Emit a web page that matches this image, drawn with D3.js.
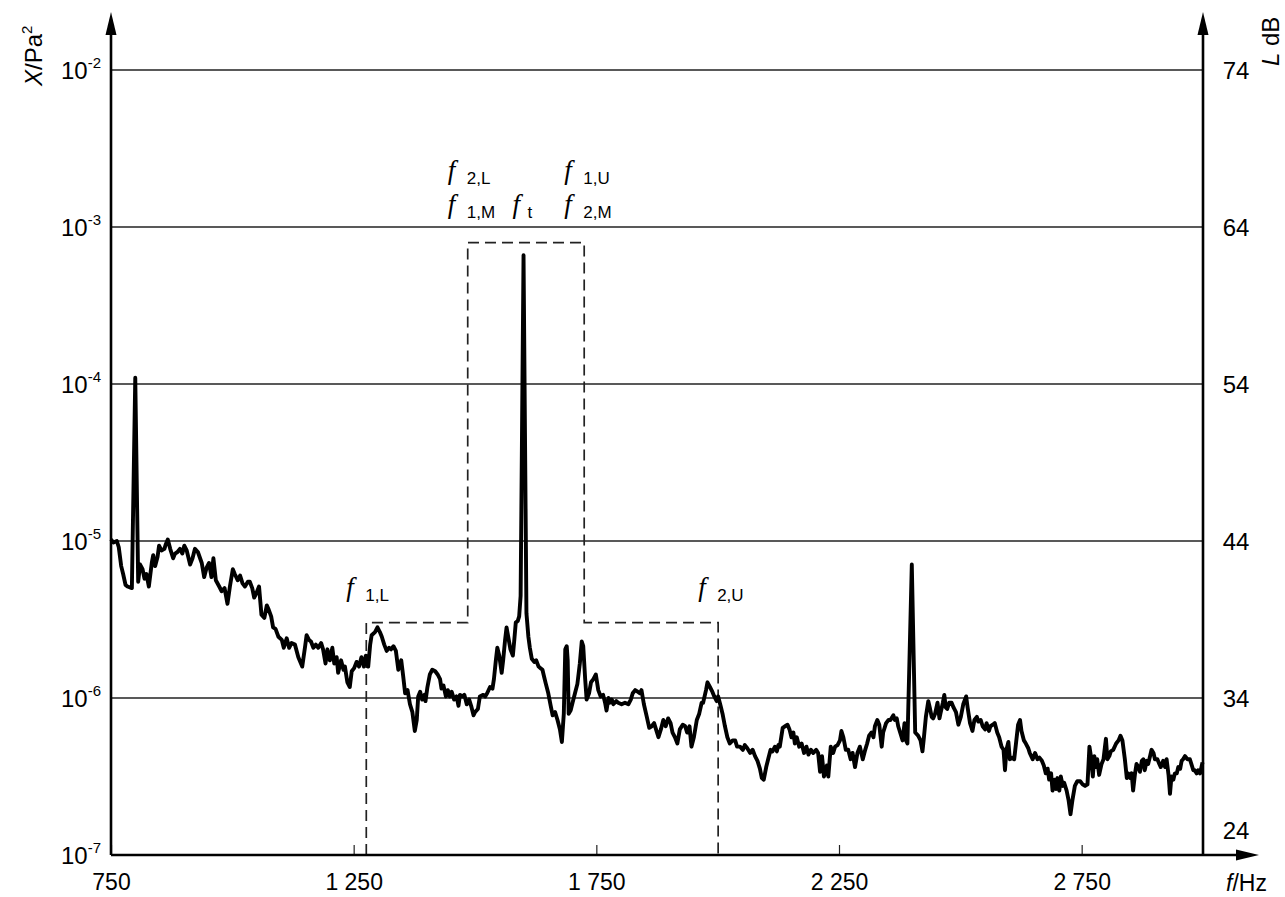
<!DOCTYPE html>
<html>
<head>
<meta charset="utf-8">
<script src="https://cdn.jsdelivr.net/npm/d3@7"></script>
<style>
  body { margin: 0; background: #fff; }
  svg { display: block; font-family: "Liberation Sans", Arial, sans-serif; }
</style>
</head>
<body>
<main></main>
<script>
// axis ticks
const xTicks = [750, 1250, 1750, 2250, 2750]
const yExponents = [-2, -3, -4, -5, -6, -7]
const dbTicks = [74, 64, 54, 44, 34, 24]

// dashed band outline (Hz edges, dB levels: low boxes, middle box)
const bandHz = [1276, 1485, 1725, 2001]
const bandDb = [38.8, 63.0]

const spectrumHz = [
  750, 755, 762, 766, 771, 775, 780, 784, 793, 800, 806, 810, 815, 819, 823, 828, 834, 837, 841, 846,
  849, 854, 860, 863, 867, 872, 878, 882, 887, 892, 897, 901, 906, 913, 918, 923, 929, 937, 942, 947,
  952, 957, 961, 966, 973, 978, 984, 990, 995, 1001, 1005, 1011, 1016, 1021, 1026, 1032, 1036, 1041, 1045, 1050,
  1055, 1060, 1066, 1071, 1074, 1080, 1084, 1089, 1095, 1102, 1106, 1112, 1117, 1122, 1129, 1136, 1144, 1150, 1153, 1158,
  1162, 1167, 1172, 1177, 1183, 1187, 1192, 1196, 1201, 1206, 1210, 1215, 1218, 1224, 1229, 1232, 1237, 1242, 1246, 1251,
  1256, 1261, 1266, 1271, 1275, 1280, 1284, 1287, 1294, 1299, 1304, 1308, 1313, 1318, 1323, 1327, 1332, 1337, 1342, 1348,
  1352, 1356, 1361, 1366, 1371, 1376, 1380, 1383, 1387, 1391, 1396, 1398, 1402, 1407, 1412, 1418, 1423, 1428, 1431, 1435,
  1440, 1444, 1448, 1452, 1457, 1462, 1466, 1469, 1474, 1478, 1483, 1488, 1492, 1497, 1500, 1506, 1510, 1517, 1521, 1525,
  1531, 1536, 1539, 1543, 1546, 1550, 1555, 1558, 1562, 1565, 1569, 1573, 1578, 1581, 1584, 1588, 1591, 1594, 1600, 1606,
  1610, 1613, 1617, 1622, 1626, 1631, 1635, 1639, 1642, 1646, 1651, 1656, 1660, 1665, 1670, 1675, 1679, 1683, 1686, 1689,
  1691, 1693, 1697, 1701, 1706, 1711, 1716, 1720, 1723, 1727, 1730, 1735, 1739, 1744, 1749, 1754, 1759, 1764, 1768, 1771,
  1775, 1778, 1782, 1785, 1791, 1795, 1802, 1809, 1816, 1821, 1825, 1830, 1835, 1840, 1843, 1848, 1854, 1859, 1864, 1869,
  1873, 1878, 1883, 1888, 1893, 1898, 1903, 1907, 1912, 1917, 1922, 1928, 1933, 1937, 1942, 1946, 1951, 1957, 1962, 1967,
  1970, 1976, 1979, 1984, 1989, 1993, 1998, 2001, 2006, 2010, 2015, 2020, 2025, 2031, 2036, 2040, 2046, 2052, 2056, 2061,
  2067, 2072, 2077, 2082, 2087, 2091, 2095, 2100, 2104, 2109, 2113, 2118, 2122, 2125, 2128, 2134, 2139, 2144, 2148, 2152,
  2156, 2159, 2163, 2168, 2173, 2178, 2183, 2187, 2192, 2197, 2203, 2207, 2211, 2215, 2219, 2225, 2228, 2233, 2238, 2242,
  2247, 2252, 2255, 2259, 2264, 2269, 2274, 2278, 2283, 2288, 2293, 2299, 2304, 2308, 2312, 2317, 2321, 2324, 2329, 2333,
  2338, 2341, 2347, 2352, 2356, 2362, 2365, 2369, 2372, 2376, 2379, 2381, 2385, 2388, 2391, 2400, 2407, 2413, 2418, 2422,
  2425, 2429, 2434, 2437, 2441, 2444, 2448, 2453, 2457, 2459, 2464, 2467, 2470, 2473, 2477, 2482, 2486, 2491, 2496, 2501,
  2506, 2512, 2515, 2520, 2525, 2529, 2534, 2537, 2542, 2546, 2551, 2554, 2559, 2562, 2567, 2571, 2576, 2580, 2585, 2589,
  2592, 2595, 2599, 2602, 2607, 2611, 2615, 2619, 2623, 2626, 2631, 2635, 2640, 2643, 2649, 2654, 2659, 2663, 2668, 2672,
  2676, 2680, 2683, 2687, 2690, 2694, 2697, 2700, 2704, 2707, 2711, 2714, 2719, 2723, 2727, 2731, 2736, 2741, 2747, 2752,
  2757, 2762, 2766, 2769, 2773, 2776, 2780, 2782, 2786, 2791, 2795, 2798, 2800, 2803, 2807, 2810, 2815, 2821, 2826, 2830,
  2834, 2839, 2843, 2846, 2850, 2853, 2856, 2860, 2863, 2867, 2870, 2874, 2877, 2880, 2884, 2887, 2891, 2894, 2898, 2901,
  2906, 2910, 2913, 2918, 2922, 2925, 2929, 2932, 2935, 2939, 2942, 2946, 2949, 2953, 2956, 2959, 2963, 2968, 2973, 2977,
  2980, 2983, 2987, 2990, 2994, 2999
]
const spectrumDb = [
  44.1, 43.9, 44.0, 43.6, 42.4, 41.9, 41.2, 41.1, 41.0, 54.4, 41.4, 42.5, 42.2, 41.6, 41.9, 41.1, 42.6, 43.1, 42.4, 43.0,
  43.7, 43.4, 43.5, 43.8, 44.1, 43.5, 42.9, 43.2, 43.3, 43.5, 43.2, 43.7, 43.4, 42.5, 42.9, 43.5, 43.3, 42.6, 41.7, 42.3,
  42.6, 41.7, 42.9, 41.5, 41.1, 40.8, 41.0, 40.0, 41.1, 42.2, 41.9, 41.5, 41.8, 41.3, 41.1, 41.4, 41.4, 41.0, 40.4, 40.7,
  41.1, 39.3, 39.1, 39.9, 39.7, 39.2, 38.5, 38.4, 37.9, 37.7, 37.2, 37.8, 37.2, 37.5, 37.4, 36.6, 36.0, 37.3, 38.0, 37.7,
  37.6, 37.2, 37.4, 37.2, 37.5, 37.1, 36.2, 37.1, 36.4, 37.2, 36.2, 36.6, 35.6, 36.4, 35.8, 36.0, 35.0, 34.7, 35.7, 35.9,
  36.3, 36.0, 36.6, 36.0, 36.7, 36.0, 37.4, 38.0, 38.2, 38.5, 38.2, 37.9, 37.4, 37.0, 37.2, 37.1, 37.3, 37.0, 35.8, 36.4,
  35.4, 34.3, 34.5, 33.6, 33.1, 31.9, 32.6, 34.1, 34.4, 33.9, 34.2, 33.8, 34.7, 35.5, 35.8, 35.7, 35.5, 35.2, 34.6, 34.8,
  34.1, 34.5, 34.1, 34.4, 33.9, 34.1, 33.5, 34.2, 34.1, 34.2, 33.6, 33.9, 33.5, 32.9, 33.1, 33.3, 34.1, 34.2, 34.1, 34.3,
  34.7, 34.6, 35.2, 36.4, 37.2, 36.7, 35.6, 36.4, 37.7, 38.5, 37.8, 37.1, 36.7, 37.7, 38.8, 38.9, 39.2, 40.5, 62.2, 39.4,
  37.9, 37.2, 36.5, 36.3, 36.4, 36.0, 35.9, 35.8, 35.4, 34.9, 34.3, 33.5, 32.9, 33.1, 32.6, 32.0, 31.2, 33.0, 37.1, 37.3,
  36.4, 33.0, 33.2, 33.7, 34.3, 34.9, 36.2, 37.6, 37.3, 35.2, 33.9, 34.3, 35.0, 35.2, 35.5, 34.5, 34.1, 34.2, 33.7, 33.2,
  34.0, 33.7, 33.9, 33.6, 33.8, 33.7, 33.6, 33.7, 33.6, 33.9, 34.3, 34.5, 34.4, 34.3, 34.5, 33.6, 32.8, 32.1, 32.2, 32.4,
  32.0, 31.5, 32.0, 32.6, 32.2, 32.7, 32.4, 31.8, 31.5, 31.1, 32.0, 32.3, 32.2, 31.8, 32.2, 30.9, 31.5, 32.6, 33.0, 33.7,
  33.7, 34.5, 35.0, 34.7, 34.4, 34.1, 33.8, 34.1, 33.5, 33.0, 32.2, 31.5, 31.1, 31.3, 31.3, 30.9, 30.9, 30.7, 31.0, 30.8,
  30.5, 30.7, 30.3, 30.0, 29.5, 28.9, 28.8, 29.6, 30.1, 30.7, 30.6, 30.9, 30.6, 31.0, 30.9, 32.1, 32.2, 32.3, 32.0, 31.5,
  31.8, 31.1, 31.5, 30.9, 31.1, 30.5, 30.9, 30.4, 30.7, 30.5, 30.7, 30.5, 29.3, 30.3, 29.0, 29.7, 29.0, 30.9, 30.5, 30.9,
  31.0, 31.3, 31.9, 31.5, 30.7, 30.7, 30.1, 30.5, 29.6, 30.5, 30.9, 30.1, 30.7, 31.1, 31.6, 31.8, 31.5, 32.2, 32.6, 32.3,
  30.9, 31.8, 32.4, 32.6, 32.6, 32.9, 32.6, 32.7, 32.2, 31.8, 31.5, 31.3, 32.4, 31.3, 31.1, 42.5, 31.8, 31.6, 31.3, 30.6,
  31.5, 32.8, 33.8, 33.4, 32.8, 32.7, 33.0, 33.7, 32.7, 33.0, 33.7, 34.2, 33.4, 33.3, 33.7, 33.7, 33.4, 33.1, 32.3, 32.8,
  33.6, 34.1, 33.4, 32.4, 31.9, 32.6, 32.8, 32.5, 32.6, 32.2, 32.0, 32.4, 31.9, 32.2, 32.3, 32.4, 31.8, 31.5, 30.9, 30.7,
  29.4, 30.7, 31.2, 30.1, 30.2, 30.1, 31.2, 32.3, 32.6, 31.9, 31.3, 31.1, 30.8, 30.5, 30.1, 30.5, 30.1, 30.2, 30.0, 29.7,
  29.2, 29.5, 28.8, 29.2, 28.1, 28.8, 28.2, 28.9, 28.1, 29.0, 28.4, 28.6, 28.1, 27.5, 26.6, 27.5, 28.4, 28.7, 28.7, 28.5,
  28.4, 28.5, 30.9, 30.3, 29.0, 30.3, 29.6, 30.1, 29.1, 29.8, 30.1, 30.9, 31.4, 30.1, 30.3, 30.6, 30.7, 31.1, 31.3, 31.6,
  31.3, 30.1, 28.9, 29.2, 28.9, 29.2, 28.1, 29.2, 29.8, 29.6, 29.3, 30.0, 30.1, 29.4, 30.0, 29.8, 30.3, 30.7, 30.5, 30.1,
  30.1, 29.8, 29.6, 30.0, 29.6, 30.1, 29.1, 27.9, 29.0, 28.8, 29.2, 29.2, 29.6, 29.5, 30.0, 30.1, 30.3, 30.1, 30.1, 29.7,
  29.4, 29.4, 29.2, 29.4, 29.2, 29.9
]

// frequency annotations: symbol subscript, anchoring band edge, row
const annotations = [
  { sub: '2,L', hz: 1485, row: 'top' },
  { sub: '1,M', hz: 1485, row: 'mid' },
  { sub: 't', hz: 1600, row: 'mid' },
  { sub: '1,U', hz: 1725, row: 'top' },
  { sub: '2,M', hz: 1725, row: 'mid' },
  { sub: '1,L', hz: 1276, row: 'low' },
  { sub: '2,U', hz: 2001, row: 'low' }
]

const width = 1285
const height = 897
const margin = { left: 111, right: 82, top: 70, bottom: 42 }

const x = d3.scaleLinear().domain([750, 3000]).range([margin.left, width - margin.right])
const y = d3.scaleLog().domain([1e-7, 1e-2]).range([height - margin.bottom, margin.top])
const yDb = d3.scaleLinear().domain([24, 74]).range([height - margin.bottom, margin.top])
const dbToPa2 = L => Math.pow(10, (L - 94) / 10)

const svg = d3.select('main')
  .append('svg')
  .attr('width', width)
  .attr('height', height)

const x0 = x.range()[0]
const x1 = x.range()[1]
const yBottom = y.range()[0]

// grid lines at the decades
svg.append('g')
  .selectAll('line')
  .data(yExponents.slice(0, -1))
  .enter()
  .append('line')
  .attr('x1', x0)
  .attr('x2', x1)
  .attr('y1', d => y(Math.pow(10, d)))
  .attr('y2', d => y(Math.pow(10, d)))
  .style('stroke', '#222')
  .style('stroke-width', '1.5px')

// dashed band outline
const bandPts = [
  [bandHz[0], 24], [bandHz[0], bandDb[0]], [bandHz[1], bandDb[0]], [bandHz[1], bandDb[1]],
  [bandHz[2], bandDb[1]], [bandHz[2], bandDb[0]], [bandHz[3], bandDb[0]], [bandHz[3], 24]
]
svg.append('path')
  .attr('d', d3.line().x(d => x(d[0])).y(d => yDb(d[1]))(bandPts))
  .style('fill', 'none')
  .style('stroke', '#222')
  .style('stroke-width', '1.7px')
  .style('stroke-dasharray', '11,6')

// x axis ticks and labels
const fmt = d3.formatLocale({ decimal: '.', thousands: ' ', grouping: [3], currency: ['', ''] }).format(',')
const xAxis = svg.append('g')
  .attr('transform', 'translate(0,' + yBottom + ')')
  .call(d3.axisBottom(x).tickValues(xTicks).tickSize(-10).tickPadding(19).tickFormat(fmt))
xAxis.select('.domain').remove()
xAxis.selectAll('line').style('stroke', '#222').style('stroke-width', '1.2px')
xAxis.selectAll('text')
  .style('font-family', '"Liberation Sans", Arial, sans-serif')
  .style('font-size', '23px')
  .style('fill', '#000')

// spectrum
const spectrum = spectrumHz.map((f, i) => ({ f: f, X: dbToPa2(spectrumDb[i]) }))
svg.append('path')
  .datum(spectrum)
  .attr('d', d3.line().x(d => x(d.f)).y(d => y(d.X)))
  .style('fill', 'none')
  .style('stroke', '#000')
  .style('stroke-width', '3.9px')
  .style('stroke-linejoin', 'round')

// axes with arrows
const axisG = svg.append('g')
axisG.append('line').attr('x1', x0).attr('x2', x0).attr('y1', yBottom).attr('y2', 30)
axisG.append('line').attr('x1', x1).attr('x2', x1).attr('y1', yBottom).attr('y2', 30)
axisG.append('line').attr('x1', x0).attr('x2', 1240).attr('y1', yBottom).attr('y2', yBottom)
axisG.selectAll('line').style('stroke', '#000').style('stroke-width', '2.6px')
const arrows = [
  [[x0, 12], [x0 - 5.5, 35], [x0 + 5.5, 35]],
  [[x1, 12], [x1 - 5.5, 35], [x1 + 5.5, 35]],
  [[1259, yBottom], [1236, yBottom - 5.5], [1236, yBottom + 5.5]]
]
axisG.selectAll('path')
  .data(arrows)
  .enter()
  .append('path')
  .attr('d', d => 'M' + d.join('L') + 'Z')
  .style('fill', '#000')

// left tick labels 10^n
const yLab = svg.append('g')
  .selectAll('text')
  .data(yExponents)
  .enter()
  .append('text')
  .attr('x', x0 - 10)
  .attr('y', d => y(Math.pow(10, d)) + 9)
  .attr('text-anchor', 'end')
  .style('font-size', '24px')
yLab.append('tspan').text('10')
yLab.append('tspan').attr('dy', -11).style('font-size', '15px').text(d => String(d))

// right tick labels in dB
svg.append('g')
  .selectAll('text')
  .data(dbTicks)
  .enter()
  .append('text')
  .attr('x', x1 + 33)
  .attr('y', d => d === 24 ? yDb(d) - 16 : yDb(d) + 9)
  .attr('text-anchor', 'middle')
  .style('font-size', '24px')
  .text(d => d)

// axis titles
const yTitle = svg.append('text')
  .attr('transform', 'translate(42,86) rotate(-90)')
  .style('font-size', '24px')
yTitle.append('tspan').style('font-style', 'italic').text('X')
yTitle.append('tspan').text('/Pa')
yTitle.append('tspan').attr('dy', -10).style('font-size', '15px').text('2')

const rTitle = svg.append('text')
  .attr('transform', 'translate(1279,66) rotate(-90)')
  .style('font-size', '24px')
rTitle.append('tspan').style('font-style', 'italic').text('L')
rTitle.append('tspan').text(' dB')

const xTitle = svg.append('text')
  .attr('x', 1226)
  .attr('y', yBottom + 36)
  .style('font-size', '23px')
xTitle.append('tspan').style('font-style', 'italic').text('f')
xTitle.append('tspan').text('/Hz')

// frequency symbols
const rowBase = { top: yDb(bandDb[1]) - 59, mid: yDb(bandDb[1]) - 25, low: yDb(bandDb[0]) - 22 }
const ann = svg.append('g')
  .selectAll('g')
  .data(annotations)
  .enter()
  .append('g')
  .attr('transform', d => {
    const dx = d.sub === 't' ? -11 : -20
    return 'translate(' + (x(d.hz) + dx) + ',' + rowBase[d.row] + ')'
  })
ann.append('text')
  .attr('x', 0)
  .attr('y', -5)
  .style('font-family', '"Liberation Serif", "DejaVu Serif", serif')
  .style('font-style', 'italic')
  .style('font-size', '27px')
  .text('f')
ann.append('text')
  .attr('x', d => d.sub === 't' ? 15 : 19)
  .attr('y', 0)
  .style('font-size', '17px')
  .text(d => d.sub)
</script>
</body>
</html>
